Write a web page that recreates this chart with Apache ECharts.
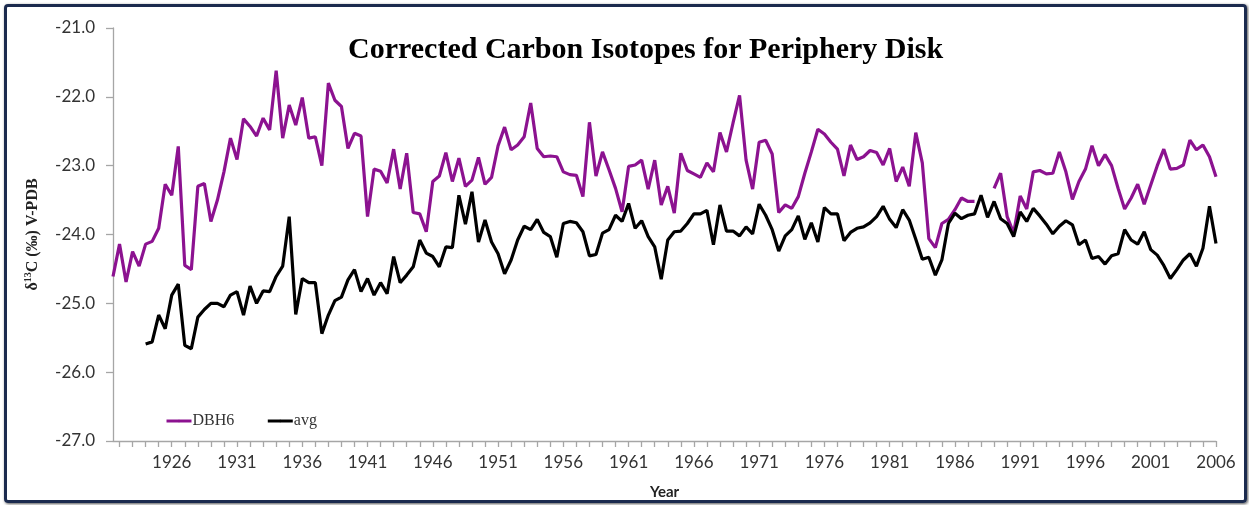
<!DOCTYPE html>
<html>
<head>
<meta charset="utf-8">
<script src="https://cdn.jsdelivr.net/npm/echarts@6/dist/echarts.min.js"></script>
<style>
  html, body { margin: 0; padding: 0; background: #fff; }
  #wrap { position: relative; width: 1249px; height: 505px; }
  #frame { position: absolute; left: 4px; top: 4px; width: 1237px; height: 493px;
           border: 3px solid #1b2a4e; border-radius: 4px; box-shadow: 1px 1px 3px #555; }
  #main { position: absolute; left: 0; top: 0; width: 1249px; height: 505px; }
</style>
</head>
<body>
<div id="wrap">
  <div id="frame"></div>
  <div id="main"></div>
</div>
<script>
// 半年一个样点, 1921.5 ~ 2006
var startYear = 1921.5;
var stepYear = 0.5;
var pointCount = 170;

var dbh6 = [
  -24.61, -24.14, -24.69, -24.25, -24.46, -24.14, -24.10, -23.91, -23.27, -23.43,
  -22.72, -24.45, -24.51, -23.30, -23.26, -23.81, -23.50, -23.09, -22.60, -22.91,
  -22.32, -22.43, -22.57, -22.31, -22.48, -21.62, -22.60, -22.12, -22.41, -22.01,
  -22.60, -22.58, -23.00, -21.80, -22.05, -22.14, -22.75, -22.53, -22.57, -23.74,
  -23.05, -23.08, -23.25, -22.76, -23.34, -22.82, -23.68, -23.70, -23.96, -23.23,
  -23.15, -22.81, -23.23, -22.89, -23.30, -23.21, -22.88, -23.27, -23.17, -22.71,
  -22.44, -22.77, -22.70, -22.58, -22.09, -22.75, -22.87, -22.86, -22.87, -23.09,
  -23.13, -23.14, -23.45, -22.37, -23.15, -22.80, -23.06, -23.33, -23.67, -23.01,
  -22.99, -22.92, -23.34, -22.92, -23.57, -23.30, -23.69, -22.82, -23.07, -23.12,
  -23.17, -22.96, -23.09, -22.52, -22.80, -22.38, -21.98, -22.92, -23.34, -22.66,
  -22.63, -22.83, -23.68, -23.57, -23.62, -23.45, -23.11, -22.80, -22.47, -22.54,
  -22.66, -22.76, -23.15, -22.70, -22.91, -22.87, -22.78, -22.81, -22.99, -22.75,
  -23.23, -23.02, -23.30, -22.52, -22.96, -24.06, -24.19, -23.84, -23.78, -23.64,
  -23.47, -23.52, -23.52, null, null, -23.33, -23.11, -23.74, -23.98, -23.44,
  -23.63, -23.09, -23.07, -23.12, -23.11, -22.80, -23.09, -23.49, -23.23, -23.05,
  -22.71, -23.00, -22.84, -23.00, -23.33, -23.63, -23.47, -23.27, -23.56, -23.28,
  -23.00, -22.76, -23.05, -23.04, -22.99, -22.63, -22.77, -22.70, -22.87, -23.16
];

var avg = [
  null, null, null, null, null, -25.59, -25.56, -25.17, -25.37, -24.88,
  -24.72, -25.61, -25.66, -25.20, -25.09, -25.00, -25.00, -25.05, -24.88, -24.83,
  -25.17, -24.75, -25.00, -24.82, -24.83, -24.61, -24.46, -23.74, -25.16, -24.64,
  -24.70, -24.70, -25.44, -25.17, -24.96, -24.91, -24.66, -24.51, -24.83, -24.64,
  -24.88, -24.70, -24.86, -24.32, -24.70, -24.59, -24.47, -24.08, -24.27, -24.32,
  -24.47, -24.18, -24.19, -23.43, -23.85, -23.38, -24.11, -23.79, -24.11, -24.28,
  -24.57, -24.37, -24.08, -23.88, -23.93, -23.78, -23.97, -24.03, -24.33, -23.84,
  -23.81, -23.83, -23.96, -24.31, -24.29, -23.98, -23.93, -23.72, -23.81, -23.55,
  -23.91, -23.80, -24.03, -24.18, -24.65, -24.08, -23.96, -23.95, -23.84, -23.70,
  -23.70, -23.65, -24.15, -23.57, -23.95, -23.95, -24.02, -23.89, -23.99, -23.56,
  -23.72, -23.93, -24.24, -24.02, -23.93, -23.73, -24.07, -23.83, -24.11, -23.61,
  -23.70, -23.70, -24.09, -23.97, -23.91, -23.89, -23.83, -23.74, -23.59, -23.78,
  -23.90, -23.64, -23.79, -24.07, -24.36, -24.33, -24.59, -24.37, -23.84, -23.69,
  -23.77, -23.72, -23.70, -23.43, -23.75, -23.52, -23.77, -23.84, -24.03, -23.67,
  -23.81, -23.62, -23.73, -23.85, -23.99, -23.88, -23.80, -23.86, -24.15, -24.08,
  -24.35, -24.32, -24.43, -24.31, -24.28, -23.93, -24.08, -24.14, -23.96, -24.22,
  -24.30, -24.45, -24.64, -24.51, -24.37, -24.28, -24.46, -24.20, -23.59, -24.13
];

var years = [];
for (var i = 0; i < pointCount; i++) {
  years.push(String(startYear + i * stepYear));
}

var myChart = echarts.init(document.getElementById('main'));

var option = {
  animation: false,
  title: {
    text: 'Corrected Carbon Isotopes for Periphery Disk',
    left: 343,
    top: 30,
    textStyle: { fontFamily: 'Liberation Serif', fontWeight: 'bold', fontSize: 30, color: '#000' }
  },
  legend: {
    left: 160,
    top: 408,
    itemWidth: 25,
    itemHeight: 3,
    itemGap: 32,
    lineStyle: { width: 3 },
    textStyle: { fontFamily: 'Liberation Serif', fontSize: 16, color: '#333', padding: [0, 0, 0, -4] },
    data: ['DBH6', 'avg']
  },
  grid: { left: 113, right: 33, top: 28, bottom: 64 },
  xAxis: {
    type: 'category',
    boundaryGap: false,
    data: years,
    name: 'Year',
    nameLocation: 'middle',
    nameGap: 44,
    nameTextStyle: { fontFamily: 'Lato', fontWeight: 'bold', fontSize: 15, color: '#222' },
    axisLine: { lineStyle: { color: '#a6a6a6', width: 1.3 } },
    axisTick: {
      length: 6,
      interval: function (idx) { return idx % 2 === 1; },
      lineStyle: { color: '#a6a6a6', width: 1.3 }
    },
    axisLabel: {
      interval: function (idx) { return idx >= 9 && (idx - 9) % 10 === 0; },
      margin: 13,
      fontFamily: 'Lato',
      fontSize: 17,
      color: '#333'
    },
    splitLine: { show: false }
  },
  yAxis: {
    type: 'value',
    min: -27,
    max: -21,
    interval: 1,
    name: '{a|δ}{s|13}{a|C (‰) V-PDB}',
    nameLocation: 'middle',
    nameRotate: 90,
    nameGap: 70,
    nameTextStyle: {
      rich: {
        a: { fontFamily: 'Liberation Serif', fontWeight: 'bold', fontSize: 16, color: '#222', lineHeight: 20 },
        s: { fontFamily: 'Liberation Serif', fontWeight: 'bold', fontSize: 10, color: '#222', verticalAlign: 'top', lineHeight: 20 }
      }
    },
    axisLine: { show: true, lineStyle: { color: '#a6a6a6', width: 1.3 } },
    axisTick: { show: true, length: 7, lineStyle: { color: '#a6a6a6', width: 1.3 } },
    axisLabel: {
      margin: 18,
      fontFamily: 'Lato',
      fontSize: 17,
      color: '#333',
      formatter: function (v) { return v.toFixed(1); }
    },
    splitLine: { show: false }
  },
  series: [
    {
      name: 'DBH6',
      type: 'line',
      data: dbh6,
      symbol: 'none',
      connectNulls: false,
      lineStyle: { color: '#8c1290', width: 3.2 },
      itemStyle: { color: '#8c1290' }
    },
    {
      name: 'avg',
      type: 'line',
      data: avg,
      symbol: 'none',
      lineStyle: { color: '#000', width: 3.2 },
      itemStyle: { color: '#000' }
    }
  ]
};

myChart.setOption(option);
</script>
</body>
</html>
